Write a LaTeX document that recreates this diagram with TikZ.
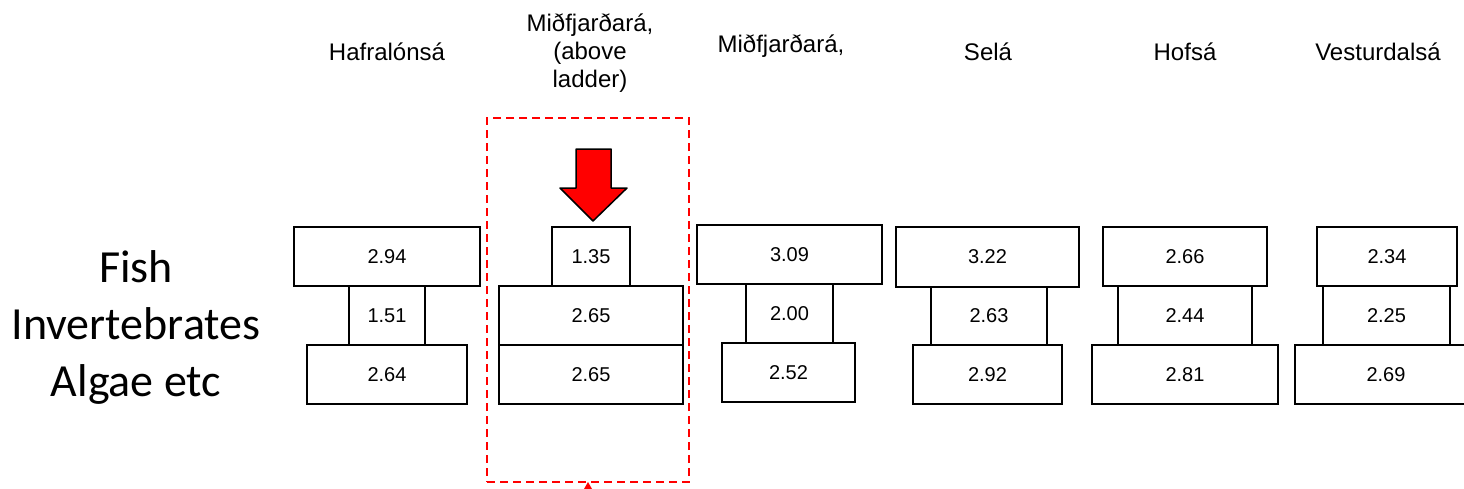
\documentclass[tikz,border=0pt]{standalone}
\usepackage{fontspec}
\newfontfamily\arialf{Liberation Sans}
\newfontfamily\calib{Carlito}
\begin{document}
\begin{tikzpicture}[x=1pt,y=-1pt,
  numbox/.style={draw=black, line width=2pt, rectangle, inner sep=0pt, minimum height=59pt,
    font=\arialf\fontsize{20}{24}\selectfont},
  header/.style={inner sep=0pt, font=\arialf\fontsize{24}{28}\selectfont, align=center},
  sidelabel/.style={inner sep=0pt, font=\calib\fontsize{46}{57}\selectfont, align=center},
  highlight/.style={draw=red, line width=2pt, dash pattern=on 8pt off 5pt},
  bigarrow/.style={fill=red, draw=black, line width=1.5pt, line join=round}
]
\useasboundingbox (0,0) rectangle (1464,488);

% side label
\node[sidelabel] (side) at (136,327) {Fish\\Invertebrates\\Algae etc};

% headers
\node[header, anchor=base] (h1) at (387,60) {Hafralónsá};
\node[header] (h2) at (590,53) {Miðfjarðará,\\(above\\ladder)};
\node[header, anchor=base] (h3) at (781,52) {Miðfjarðará,};
\node[header, anchor=base] (h4) at (988,60) {Selá};
\node[header, anchor=base] (h5) at (1185,60) {Hofsá};
\node[header, anchor=base] (h6) at (1378,60) {Vesturdalsá};

% highlight frame
\node[highlight, inner sep=0pt, minimum width=202pt, minimum height=364pt] (frame) at (588,300) {};
\fill[red] (584,489) -- (588,482) -- (592,489) -- cycle;

% red arrow
\draw[bigarrow] (576,149) -- (611,149) -- (611,188) -- (627,188) -- (593,221) -- (560,188) -- (576,188) -- cycle;

% column 1
\node[numbox, minimum width=186pt] (a1) at (387,256.5) {2.94};
\node[numbox, minimum width=76pt] (a2) at (387,315.5) {1.51};
\node[numbox, minimum width=160pt] (a3) at (387,374.5) {2.64};
% column 2
\node[numbox, minimum width=78pt] (b1) at (591,256.5) {1.35};
\node[numbox, minimum width=184pt] (b2) at (591,315.5) {2.65};
\node[numbox, minimum width=184pt] (b3) at (591,374.5) {2.65};
% column 3
\node[numbox, minimum width=185pt] (c1) at (789.5,254.5) {3.09};
\node[numbox, minimum width=87pt] (c2) at (789.5,313.5) {2.00};
\node[numbox, minimum width=133pt] (c3) at (788.5,372.5) {2.52};
% column 4
\node[numbox, minimum width=183pt, minimum height=60pt] (d1) at (987.5,257) {3.22};
\node[numbox, minimum width=116pt, minimum height=58pt] (d2) at (989,316) {2.63};
\node[numbox, minimum width=149pt] (d3) at (987.5,374.5) {2.92};
% column 5
\node[numbox, minimum width=164pt] (e1) at (1185,256.5) {2.66};
\node[numbox, minimum width=134pt] (e2) at (1185,315.5) {2.44};
\node[numbox, minimum width=186pt] (e3) at (1185,374.5) {2.81};
% column 6
\node[numbox, minimum width=140pt] (f1) at (1387,256.5) {2.34};
\node[numbox, minimum width=127pt] (f2) at (1386.5,315.5) {2.25};
\node[numbox, minimum width=182pt] (f3) at (1386,374.5) {2.69};
\end{tikzpicture}
\end{document}
